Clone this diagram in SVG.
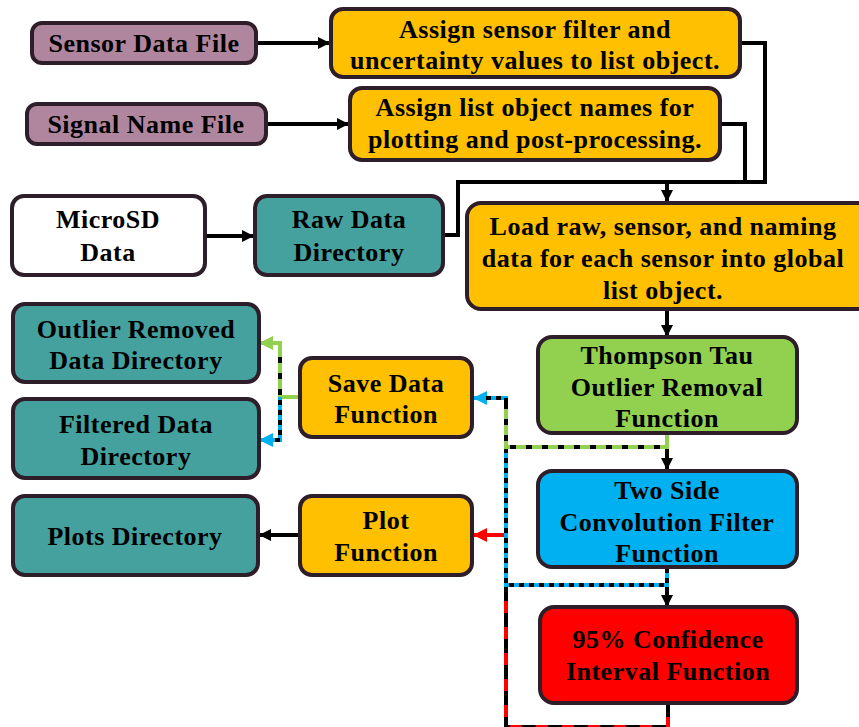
<svg xmlns="http://www.w3.org/2000/svg" width="859" height="727" viewBox="0 0 859 727">
<style>
.b{stroke:#2d1e2a;stroke-width:4}
text{font-family:'Liberation Serif','Times New Roman','DejaVu Serif',serif;font-weight:700;font-size:26px;letter-spacing:0.5px;fill:#000;text-anchor:middle}
.mauve{fill:#b0869f}
.or{fill:#fec000}
.teal{fill:#45a19e}
.wh{fill:#fff}
.gr{fill:#92d050}
.bl{fill:#00b0f0}
.rd{fill:#ff0000}
.k{fill:none;stroke:#000;stroke-width:4}
.g{fill:none;stroke:#92d050;stroke-width:4}
.c{fill:none;stroke:#00b0f0;stroke-width:4}
.r{fill:none;stroke:#ff0000;stroke-width:4}
.kd{fill:none;stroke:#000;stroke-width:4;stroke-dasharray:6 10}
.kd2{fill:none;stroke:#000;stroke-width:4;stroke-dasharray:5 5}
.kd3{fill:none;stroke:#000;stroke-width:4;stroke-dasharray:14 12}
</style>
<defs>
<marker id="ak" markerWidth="12" markerHeight="12" refX="11" refY="6" orient="auto" markerUnits="userSpaceOnUse"><path d="M0,0 L12,6 L0,12 z" fill="#000"/></marker>
<marker id="ag" markerWidth="14" markerHeight="14" refX="13" refY="7" orient="auto" markerUnits="userSpaceOnUse"><path d="M0,0 L14,7 L0,14 z" fill="#92d050"/></marker>
<marker id="ac" markerWidth="14" markerHeight="14" refX="13" refY="7" orient="auto" markerUnits="userSpaceOnUse"><path d="M0,0 L14,7 L0,14 z" fill="#00b0f0"/></marker>
<marker id="ar" markerWidth="14" markerHeight="14" refX="13" refY="7" orient="auto" markerUnits="userSpaceOnUse"><path d="M0,0 L14,7 L0,14 z" fill="#ff0000"/></marker>
</defs>
<rect width="859" height="727" fill="#fff"/>
<g id="connectors">
<path class="k" d="M256,43 L329,43" marker-end="url(#ak)"/>
<path class="k" d="M266,124 L348,124" marker-end="url(#ak)"/>
<path class="k" d="M205,236 L253,236" marker-end="url(#ak)"/>
<path class="k" d="M740,43 L765,43 L765,182 L458,182 L458,235 L443,235"/>
<path class="k" d="M720,124 L745,124 L745,182"/>
<path class="k" d="M667,182 L667,201" marker-end="url(#ak)"/>
<path class="k" d="M667,310 L667,336" marker-end="url(#ak)"/>
<path class="k" d="M667,447 L667,469" marker-end="url(#ak)"/>
<path class="k" d="M667,585 L667,606" marker-end="url(#ak)"/>
<path class="r" d="M668,703 L668,727 L506,727 L506,535 L474,535" marker-end="url(#ar)"/>
<path class="kd3" d="M668,703 L668,727 L506,727 L506,540"/>
<path class="c" d="M667,568 L667,585 L506,585 L506,398 L474,398" marker-end="url(#ac)"/>
<path class="kd2" d="M667,568 L667,585 L506,585 L506,398 L486,398"/>
<path class="g" d="M667,434 L667,447 L506,447 L506,405"/>
<path class="kd" d="M660,447 L506,447 L506,400"/>
<path class="g" d="M300,397 L280,397 L280,343 L260,343" marker-end="url(#ag)"/>
<path class="kd" d="M280,395 L280,347"/>
<path class="c" d="M280,397 L280,440 L260,440" marker-end="url(#ac)"/>
<path class="kd2" d="M280,400 L280,440 L272,440"/>
<path class="k" d="M300,535 L260,535" marker-end="url(#ak)"/>
</g>
<g id="sensorDataFile"><rect class="b mauve" x="32" y="23" width="224" height="40" rx="10"/><text x="144" y="52">Sensor Data File</text></g>
<g id="assignSensor"><rect class="b or" x="331" y="9" width="409" height="68" rx="12"/><text x="535" y="38">Assign sensor filter and</text><text x="535" y="69">uncertainty values to list object.</text></g>
<g id="signalNameFile"><rect class="b mauve" x="27" y="104" width="239" height="40" rx="10"/><text x="146" y="133">Signal Name File</text></g>
<g id="assignList"><rect class="b or" x="350" y="88" width="370" height="72" rx="12"/><text x="535" y="116">Assign list object names for</text><text x="535" y="148">plotting and post-processing.</text></g>
<g id="microSD"><rect class="b wh" x="12" y="196" width="193" height="79" rx="12"/><text x="108" y="228">MicroSD</text><text x="108" y="261">Data</text></g>
<g id="rawData"><rect class="b teal" x="255" y="196" width="188" height="79" rx="12"/><text x="349" y="228">Raw Data</text><text x="349" y="261">Directory</text></g>
<g id="loadRaw"><rect class="b or" x="467" y="203" width="410" height="106" rx="14"/><text x="663" y="235">Load raw, sensor, and naming</text><text x="663" y="267">data for each sensor into global</text><text x="663" y="299">list object.</text></g>
<g id="thompson"><rect class="b gr" x="538" y="337" width="259" height="96" rx="14"/><text x="667" y="364">Thompson Tau</text><text x="667" y="396">Outlier Removal</text><text x="667" y="427">Function</text></g>
<g id="twoSide"><rect class="b bl" x="538" y="471" width="259" height="96" rx="14"/><text x="667" y="499">Two Side</text><text x="667" y="531">Convolution Filter</text><text x="667" y="562">Function</text></g>
<g id="confidence"><rect class="b rd" x="540" y="607" width="257" height="96" rx="14"/><text x="668" y="648">95% Confidence</text><text x="668" y="680">Interval Function</text></g>
<g id="outlierDir"><rect class="b teal" x="13" y="304" width="246" height="78" rx="12"/><text x="136" y="338">Outlier Removed</text><text x="136" y="369">Data Directory</text></g>
<g id="filteredDir"><rect class="b teal" x="13" y="399" width="246" height="79" rx="12"/><text x="136" y="433">Filtered Data</text><text x="136" y="465">Directory</text></g>
<g id="plotsDir"><rect class="b teal" x="13" y="496" width="245" height="79" rx="12"/><text x="135" y="545">Plots Directory</text></g>
<g id="saveData"><rect class="b or" x="300" y="358" width="172" height="79" rx="12"/><text x="386" y="392">Save Data</text><text x="386" y="423">Function</text></g>
<g id="plotFunction"><rect class="b or" x="300" y="496" width="172" height="79" rx="12"/><text x="386" y="529">Plot</text><text x="386" y="561">Function</text></g>
</svg>
